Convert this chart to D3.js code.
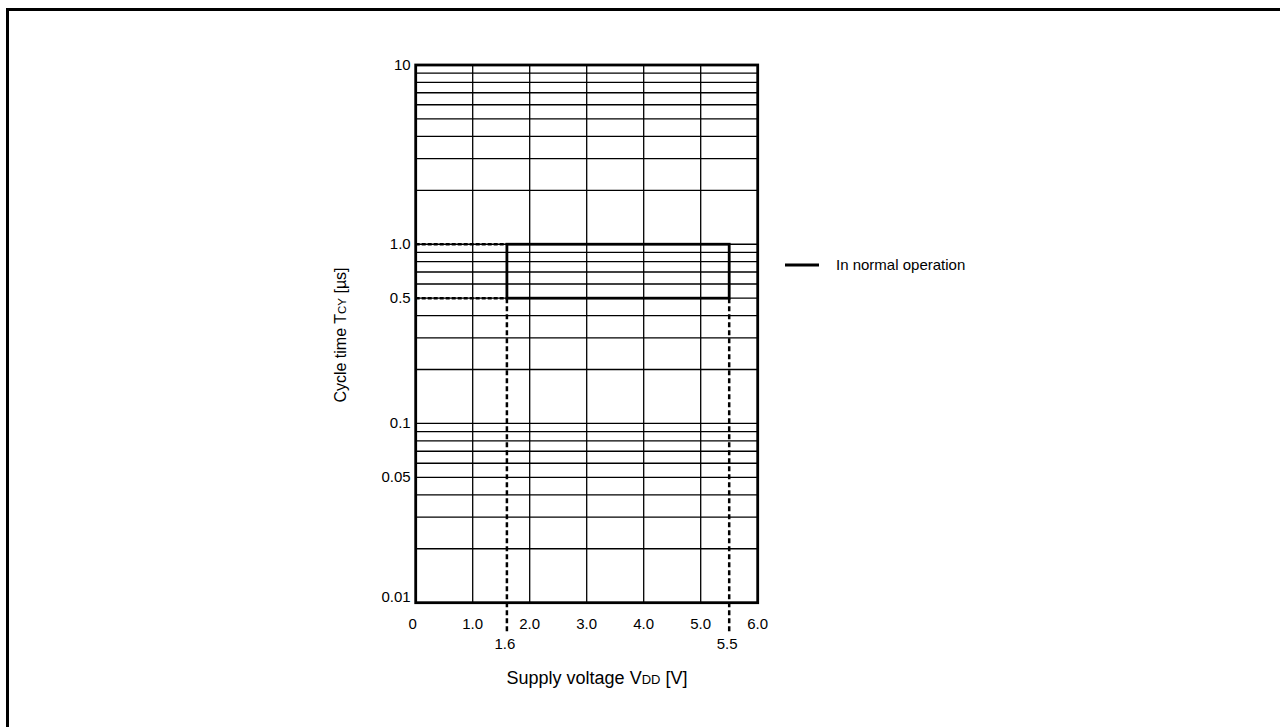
<!DOCTYPE html>
<html>
<head>
<meta charset="utf-8">
<script src="https://cdn.jsdelivr.net/npm/d3@7"></script>
<style>
  html, body { margin: 0; padding: 0; background: #fff; }
  svg { display: block; }
  text { font-family: "Liberation Sans", Arial, sans-serif; fill: #000; }
</style>
</head>
<body>
<svg id="chart" width="1280" height="727"></svg>
<script>
// ---- data ----
const xDomain = [0, 6];
const yDomain = [0.01, 10];
const xTicks = [0, 1, 2, 3, 4, 5, 6];
const xTickLabels = ["0", "1.0", "2.0", "3.0", "4.0", "5.0", "6.0"];
const yTicks = [10, 1, 0.5, 0.1, 0.05, 0.01];
const yTickLabels = ["10", "1.0", "0.5", "0.1", "0.05", "0.01"];
const vddRange = [1.6, 5.5];
const vddRangeLabels = ["1.6", "5.5"];
const tcyRange = [0.5, 1.0];
const legendLabels = ["In normal operation"];

// ---- layout ----
const svg = d3.select("#chart");
const plot = { left: 415.7, right: 757.7, top: 65, bottom: 602.7 };
const x = d3.scaleLinear().domain(xDomain).range([plot.left, plot.right]);
const y = d3.scaleLog().domain(yDomain).range([plot.bottom, plot.top]);

// outer frame (extends past right/bottom edges)
svg.append("rect")
  .attr("x", 7.5).attr("y", 9.5)
  .attr("width", 1400).attr("height", 900)
  .attr("fill", "none").attr("stroke", "#000").attr("stroke-width", 3);

const g = svg.append("g");

// horizontal log grid
const hGrid = y.ticks().filter(v => v > yDomain[0] && v < yDomain[1]);
g.selectAll("line.hgrid").data(hGrid).join("line")
  .attr("class", "hgrid")
  .attr("x1", plot.left).attr("x2", plot.right)
  .attr("y1", d => y(d)).attr("y2", d => y(d))
  .attr("stroke", "#000").attr("stroke-width", 1.3);

// vertical grid
const vGrid = xTicks.filter(v => v > xDomain[0] && v < xDomain[1]);
g.selectAll("line.vgrid").data(vGrid).join("line")
  .attr("class", "vgrid")
  .attr("x1", d => x(d)).attr("x2", d => x(d))
  .attr("y1", plot.top).attr("y2", plot.bottom)
  .attr("stroke", "#000").attr("stroke-width", 1.3);

// plot frame
g.append("rect")
  .attr("x", plot.left).attr("y", plot.top)
  .attr("width", plot.right - plot.left).attr("height", plot.bottom - plot.top)
  .attr("fill", "none").attr("stroke", "#000").attr("stroke-width", 2.8);

// dashed guides: horizontal from 0 to 1.6 at TCY bounds
g.selectAll("line.hdash").data(tcyRange).join("line")
  .attr("class", "hdash")
  .attr("x1", x(xDomain[0])).attr("x2", x(vddRange[0]))
  .attr("y1", d => y(d)).attr("y2", d => y(d))
  .attr("stroke", "#000").attr("stroke-width", 2.5).attr("stroke-dasharray", "4,2");

// dashed guides: vertical from TCY 0.5 down below axis
g.selectAll("line.vdash").data(vddRange).join("line")
  .attr("class", "vdash")
  .attr("x1", d => x(d)).attr("x2", d => x(d))
  .attr("y1", y(tcyRange[0])).attr("y2", plot.bottom + 30)
  .attr("stroke", "#000").attr("stroke-width", 2.5).attr("stroke-dasharray", "5,3");

// operating region (solid)
g.append("rect")
  .attr("x", x(vddRange[0])).attr("y", y(tcyRange[1]))
  .attr("width", x(vddRange[1]) - x(vddRange[0]))
  .attr("height", y(tcyRange[0]) - y(tcyRange[1]))
  .attr("fill", "none").attr("stroke", "#000").attr("stroke-width", 2.8);

// x tick labels
g.selectAll("text.xt").data(xTicks).join("text")
  .attr("class", "xt")
  .attr("x", d => x(d) + (d === 0 ? -3 : 0))
  .attr("y", plot.bottom + 26)
  .attr("text-anchor", "middle")
  .attr("font-size", 15)
  .text((d, i) => xTickLabels[i]);

// vdd range labels
g.selectAll("text.vr").data(vddRange).join("text")
  .attr("class", "vr")
  .attr("x", d => x(d) - 2)
  .attr("y", plot.bottom + 46)
  .attr("text-anchor", "middle")
  .attr("font-size", 15)
  .text((d, i) => vddRangeLabels[i]);

// y tick labels
g.selectAll("text.yt").data(yTicks).join("text")
  .attr("class", "yt")
  .attr("x", plot.left - 5)
  .attr("y", d => y(d) + 5 - (d === yDomain[0] ? 6 : 0))
  .attr("text-anchor", "end")
  .attr("font-size", 15)
  .text((d, i) => yTickLabels[i]);

// x axis title
const xt = svg.append("text")
  .attr("x", 597).attr("y", 684)
  .attr("text-anchor", "middle")
  .attr("font-size", 18);
xt.append("tspan").text("Supply voltage V");
xt.append("tspan").attr("font-size", 13).text("DD");
xt.append("tspan").text(" [V]");

// y axis title
const yt = svg.append("text")
  .attr("transform", "translate(346,335) rotate(-90)")
  .attr("text-anchor", "middle")
  .attr("font-size", 16);
yt.append("tspan").text("Cycle time T");
yt.append("tspan").attr("font-size", 11.5).text("CY");
yt.append("tspan").text(" [µs]");

// legend
const lg = svg.append("g");
lg.append("line")
  .attr("x1", 785).attr("x2", 819).attr("y1", 265).attr("y2", 265)
  .attr("stroke", "#000").attr("stroke-width", 2.8);
lg.append("text")
  .attr("x", 836).attr("y", 270)
  .attr("font-size", 15)
  .text(legendLabels[0]);
</script>
</body>
</html>
